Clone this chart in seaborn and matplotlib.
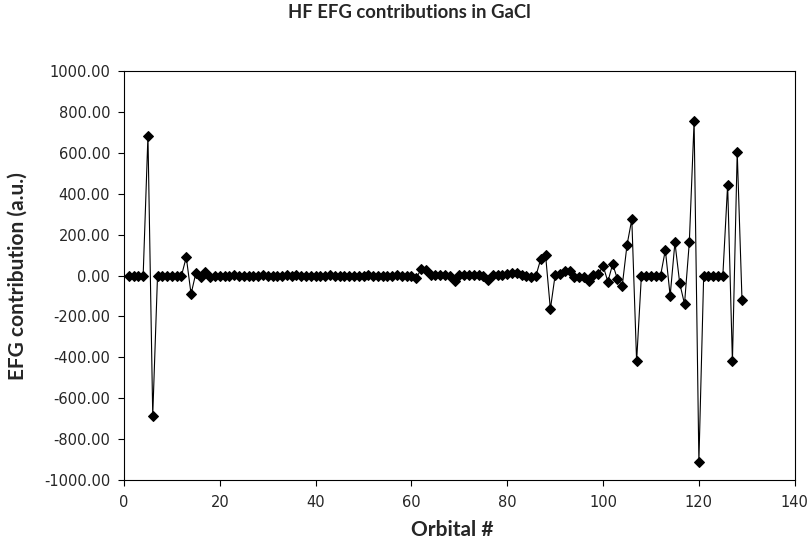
import numpy as np
import pandas as pd
import seaborn as sns
from matplotlib import pyplot as plt
from matplotlib.ticker import FormatStrFormatter

# EFG contribution per orbital (orbitals 1..129)
efg_1_20 = [0, 0, 0, 0, 685, -685, 0, 0, 0, 0,
            0, 0, 90, -90, 12, -8, 18, -5, 0, 0]
efg_21_60 = [0, 0, 2, 0, 0, -2, 0, 0, 2, 0,
             0, 0, 0, 2, 0, 5, 0, 0, -4, 0,
             0, 0, 2, 0, 0, 0, -2, 0, 0, 0,
             2, 0, 0, 0, 0, 0, 2, 0, 0, -2]
efg_61_100 = [-12, 30, 28, 3, 2, 3, 2, 0, -27, 2,
              3, 3, 3, 2, -3, -20, 2, 3, 4, 8,
              14, 12, 3, -3, -5, 0, 82, 100, -164, 3,
              6, 20, 22, -9, -9, -9, -25, 3, 6, 48]
efg_101_129 = [-30, 56, -17, -50, 150, 275, -420, 0, 0, 0,
               0, 0, 125, -99, 162, -38, -139, 162, 755, -910,
               0, 0, 0, 0, 0, 445, -420, 605, -120]

efg = efg_1_20 + efg_21_60 + efg_61_100 + efg_101_129
orbital = list(range(1, len(efg) + 1))

x_ticks = [0, 20, 40, 60, 80, 100, 120, 140]
y_ticks = [-1000, -800, -600, -400, -200, 0, 200, 400, 600, 800, 1000]

if __name__ == "__main__":
    sns.set_theme(style="white")
    plt.rcParams["font.family"] = ["DejaVu Sans"]
    bold_font = ["Lato", "DejaVu Sans"]
    df = pd.DataFrame({"orbital": orbital, "efg": efg})

    fig = plt.figure(figsize=(8.12, 5.43), dpi=100)
    ax = fig.add_axes([0.1527, 0.116, 0.826, 0.753])
    sns.lineplot(
        data=df,
        x="orbital",
        y="efg",
        ax=ax,
        color="black",
        linewidth=0.8,
        marker="D",
        markersize=5.2,
        markeredgecolor="black",
    )
    ax.set_xlim(0, 140)
    ax.set_ylim(-1000, 1000)
    ax.set_xticks(x_ticks)
    ax.set_yticks(y_ticks)
    ax.yaxis.set_major_formatter(FormatStrFormatter("%.2f"))
    ax.tick_params(axis="both", direction="out", length=4, width=0.8,
                   color="black", labelsize=10.5, bottom=True, left=True)
    ax.tick_params(axis="x", pad=7)
    ax.tick_params(axis="y", pad=6)
    for sp in ax.spines.values():
        sp.set_color("black")
        sp.set_linewidth(0.8)

    ax.set_xlabel("Orbital #", fontsize=15, fontweight="bold",
                  family=bold_font, va="center")
    ax.xaxis.set_label_coords(0.49, -0.122)
    ax.set_ylabel("EFG contribution (a.u.)", fontsize=15, fontweight="bold",
                  family=bold_font, va="center")
    ax.yaxis.set_label_coords(-0.158, 0.5)
    fig.text(0.504, 0.977, "HF EFG contributions in GaCl", fontsize=13.3,
             fontweight="bold", family=bold_font, ha="center", va="center")
    plt.savefig("out.png", dpi=100)
    plt.close()
